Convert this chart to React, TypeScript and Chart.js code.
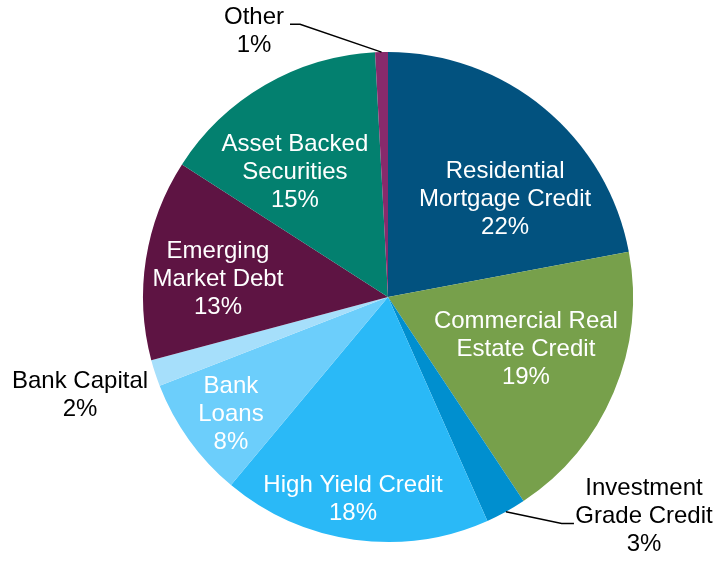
import React, { useEffect, useRef } from "react";
import { Chart, registerables } from "chart.js";

Chart.register(...registerables);

const categories = [
  "Residential Mortgage Credit",
  "Commercial Real Estate Credit",
  "Investment Grade Credit",
  "High Yield Credit",
  "Bank Loans",
  "Bank Capital",
  "Emerging Market Debt",
  "Asset Backed Securities",
  "Other",
];

const shares = [22.05, 18.62, 2.68, 17.72, 8.03, 1.75, 13.25, 15.06, 0.84];

const labelLines = [
  ["Residential", "Mortgage Credit"],
  ["Commercial Real", "Estate Credit"],
  ["Investment", "Grade Credit"],
  ["High Yield Credit"],
  ["Bank", "Loans"],
  ["Bank Capital"],
  ["Emerging", "Market Debt"],
  ["Asset Backed", "Securities"],
  ["Other"],
];

const colors = [
  "#02527F",
  "#77A04B",
  "#008FCF",
  "#2AB9F7",
  "#6CCEFB",
  "#A6DFFB",
  "#5E1443",
  "#03806F",
  "#872A6C",
];

// label block centre, as fraction of radius from pie centre
const labelLayout = [
  { fx: 0.478, fy: -0.4, color: "#ffffff" },
  { fx: 0.563, fy: 0.212, color: "#ffffff" },
  { fx: 1.045, fy: 0.894, color: "#000000", leader: [[0.709, 0.924], [0.759, 0.924]] },
  { fx: -0.143, fy: 0.824, color: "#ffffff" },
  { fx: -0.641, fy: 0.478, color: "#ffffff" },
  { fx: -1.257, fy: 0.4, color: "#000000" },
  { fx: -0.694, fy: -0.073, color: "#ffffff" },
  { fx: -0.38, fy: -0.51, color: "#ffffff" },
  { fx: -0.547, fy: -1.086, color: "#000000", leader: [[-0.359, -1.113], [-0.4, -1.113]] },
];

const FONT = '24px "Liberation Sans", Arial, sans-serif';
const LINE_H = 28;

const labelPlugin = {
  id: "pieLabels",
  afterDraw(chart: any) {
    const ctx = chart.ctx;
    const meta = chart.getDatasetMeta(0);
    ctx.save();
    meta.data.forEach((arc: any, i: number) => {
      const { x, y, startAngle, endAngle, outerRadius } = arc.getProps(
        ["x", "y", "startAngle", "endAngle", "outerRadius"],
        true
      );
      const R = outerRadius;
      const lay = labelLayout[i];
      if (lay.leader) {
        const mid = (startAngle + endAngle) / 2;
        ctx.beginPath();
        ctx.strokeStyle = "#000";
        ctx.lineWidth = 1.5;
        ctx.moveTo(x + Math.cos(mid) * R, y + Math.sin(mid) * R);
        lay.leader.forEach((p: number[]) => ctx.lineTo(x + p[0] * R, y + p[1] * R));
        ctx.stroke();
      }
      const lines = [...labelLines[i], Math.round(shares[i]) + "%"];
      const cx = x + lay.fx * R;
      const cy = y + lay.fy * R;
      ctx.font = FONT;
      ctx.fillStyle = lay.color;
      ctx.textAlign = "center";
      ctx.textBaseline = "middle";
      const top = cy - ((lines.length - 1) * LINE_H) / 2;
      lines.forEach((t, k) => ctx.fillText(t, cx, top + k * LINE_H));
    });
    ctx.restore();
  },
};

export default function App() {
  const ref = useRef<HTMLCanvasElement | null>(null);
  useEffect(() => {
    if (!ref.current) return;
    const chart = new Chart(ref.current, {
      type: "pie",
      data: {
        labels: categories,
        datasets: [
          {
            data: shares,
            backgroundColor: colors,
            borderWidth: 0,
          },
        ],
      },
      options: {
        animation: false,
        responsive: true,
        maintainAspectRatio: false,
        layout: { padding: { left: 143, top: 52, right: 85, bottom: 19 } },
        plugins: {
          legend: { display: false },
          tooltip: { enabled: false },
        },
      },
      plugins: [labelPlugin],
    });
    return () => chart.destroy();
  }, []);
  return (
    <div style={{ position: "absolute", left: 0, top: 0, width: 718, height: 561, background: "#fff" }}>
      <canvas ref={ref} />
    </div>
  );
}
